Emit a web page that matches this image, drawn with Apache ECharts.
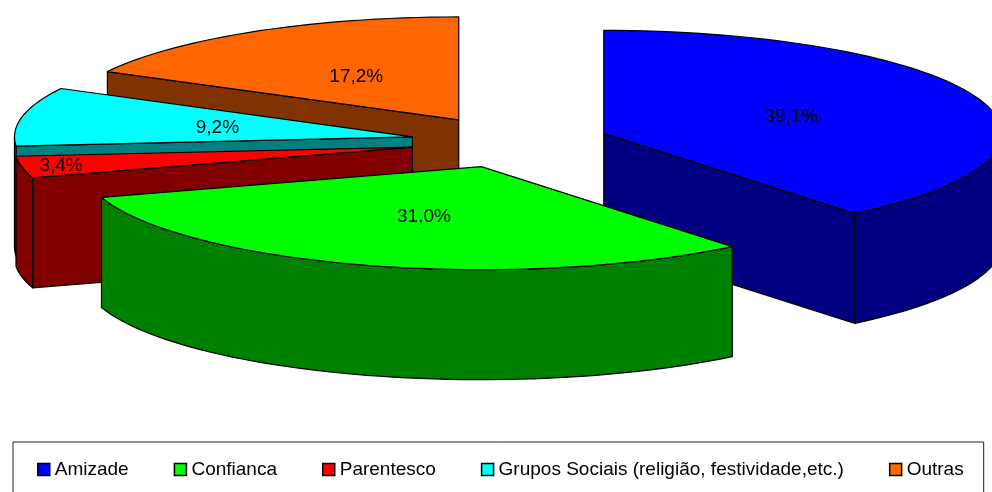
<!DOCTYPE html>
<html>
<head>
<meta charset="utf-8">
<style>html,body{margin:0;padding:0;background:#fff;overflow:hidden}#chart{width:992px;height:492px}</style>
<script src="https://cdn.jsdelivr.net/npm/echarts@6/dist/echarts.min.js"></script>
</head>
<body>
<div id="chart"></div>
<script>
// Share of each kind of tie, in percent
const categories = ['Amizade', 'Confianca', 'Parentesco', 'Grupos Sociais (religião, festividade,etc.)', 'Outras'];
const shares = [39.1, 31.0, 3.4, 9.2, 17.2];
const topColors = ['#0000FF', '#00FF00', '#FF0000', '#00FFFF', '#FF6600'];
const sideColors = ['#000080', '#008000', '#800000', '#008080', '#803300'];
// Paint order (higher is in front) and how far out along the radius each label sits
const paintOrder = [2, 6, 5, 4, 3];
const labelReach = [0.5, 0.5, 0.9, 0.5, 0.5];

// Projection of the tilted pie
const pie = { cx: 510, cy: 142, rx: 398, ry: 103, depth: 110, explode: 0.25 };
const total = shares.reduce((a, b) => a + b, 0);
const rad = d => d * Math.PI / 180;

// Clockwise angles from 12 o'clock for each slice
const spans = [];
shares.reduce((start, v) => {
  const end = start + v / total * 360;
  spans.push([start, end]);
  return end;
}, 0);

function rimPoint(apex, deg, drop) {
  return [
    apex[0] + pie.rx * Math.sin(rad(deg)),
    apex[1] - pie.ry * Math.cos(rad(deg)) + drop
  ];
}

function arcPoints(apex, from, to, drop) {
  const pts = [];
  const steps = Math.max(2, Math.ceil((to - from) / 2));
  for (let i = 0; i <= steps; i++) pts.push(rimPoint(apex, from + (to - from) * i / steps, drop));
  return pts;
}

function face(points, fill) {
  return {
    type: 'polygon',
    shape: { points: points },
    style: { fill: fill, stroke: '#000', lineWidth: 1.2, lineJoin: 'round' }
  };
}

function drawSlice(index, value) {
  const [a0, a1] = spans[index];
  const mid = (a0 + a1) / 2;
  const apex = [
    pie.cx + pie.explode * pie.rx * Math.sin(rad(mid)),
    pie.cy - pie.explode * pie.ry * Math.cos(rad(mid))
  ];
  const lower = p => [p[0], p[1] + pie.depth];
  const children = [];
  const side = sideColors[index];

  // Radial wall on whichever cut faces the viewer
  if (Math.sin(rad(a0)) < -1e-6) {
    const rim = rimPoint(apex, a0, 0);
    children.push(face([apex, rim, lower(rim), lower(apex)], side));
  }
  if (Math.sin(rad(a1)) > 1e-6) {
    const rim = rimPoint(apex, a1, 0);
    children.push(face([apex, rim, lower(rim), lower(apex)], side));
  }
  // Curved outer wall: only the near half of the rim shows
  const w0 = Math.max(a0, 90), w1 = Math.min(a1, 270);
  if (w1 > w0) {
    const upper = arcPoints(apex, w0, w1, 0);
    const bottom = arcPoints(apex, w0, w1, pie.depth).reverse();
    children.push(face(upper.concat(bottom), side));
  }
  // Top surface
  children.push(face([apex].concat(arcPoints(apex, a0, a1, 0)), topColors[index]));

  // Percentage label on the top surface
  const reach = labelReach[index];
  children.push({
    type: 'text',
    style: {
      x: apex[0] + reach * pie.rx * Math.sin(rad(mid)),
      y: apex[1] - reach * pie.ry * Math.cos(rad(mid)) + 1,
      text: value.toFixed(1).replace('.', ',') + '%',
      fill: '#000',
      font: '19px "Liberation Sans", Arial, sans-serif',
      align: 'center',
      verticalAlign: 'middle'
    }
  });
  return { type: 'group', children: children };
}

const chart = echarts.init(document.getElementById('chart'), null, { renderer: 'canvas' });
chart.setOption({
  animation: false,
  backgroundColor: '#fff',
  legend: {
    left: 13,
    top: 442,
    orient: 'horizontal',
    data: categories.map(name => ({ name: name, icon: 'rect' })),
    itemWidth: 12,
    itemHeight: 12,
    itemGap: 45,
    padding: [18, 20, 18, 24],
    borderColor: '#222',
    borderWidth: 1,
    borderRadius: 0,
    backgroundColor: '#fff',
    selectedMode: false,
    itemStyle: { borderColor: '#000', borderWidth: 1.5 },
    textStyle: { color: '#000', fontSize: 19, fontFamily: '"Liberation Sans", Arial, sans-serif', padding: [0, 0, 0, 0] }
  },
  series: categories.map((name, i) => ({
    type: 'custom',
    name: name,
    coordinateSystem: 'none',
    z: paintOrder[i],
    silent: true,
    itemStyle: { color: topColors[i] },
    data: [[shares[i]]],
    renderItem: (params, api) => drawSlice(i, api.value(0))
  }))
});
</script>
</body>
</html>
